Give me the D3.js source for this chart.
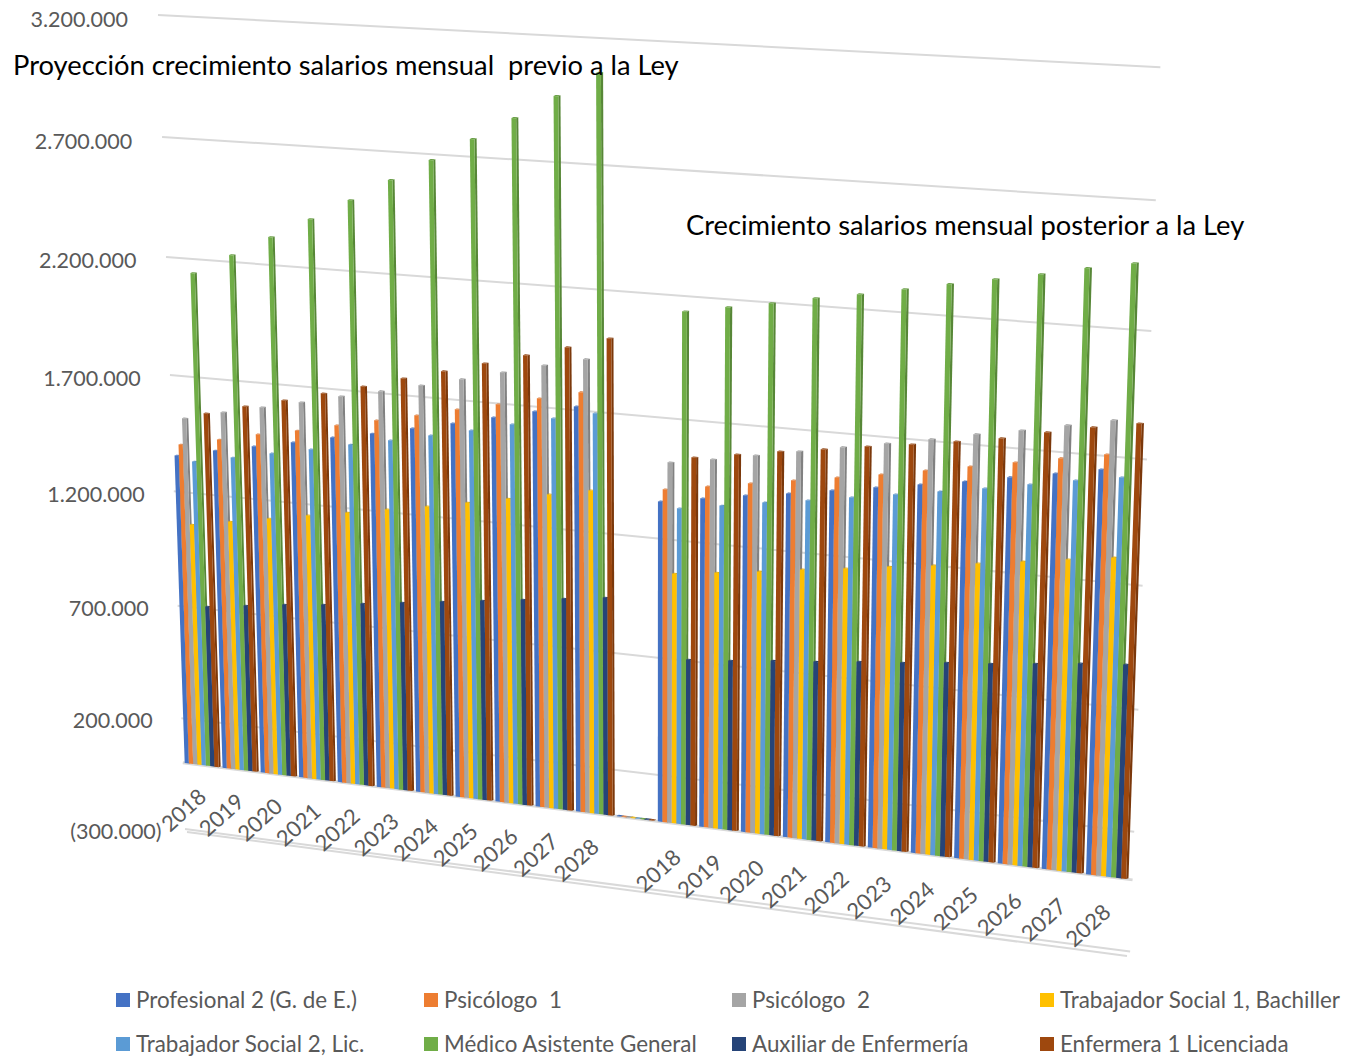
<!DOCTYPE html>
<html>
<head>
<meta charset="utf-8">
<style>
html, body { margin: 0; padding: 0; background: #fff; }
svg { display: block; }
text { font-family: Lato, "Open Sans", sans-serif; }
</style>
<script src="https://cdn.jsdelivr.net/npm/d3@7"></script>
</head>
<body>
<div id="chart"></div>
<script>
// categories: two runs of years with one empty slot between them
var years = ['2018', '2019', '2020', '2021', '2022', '2023', '2024', '2025', '2026', '2027', '2028'];
var categories = years.concat(['']).concat(years);

var seriesNames = ['Profesional 2 (G. de E.)', 'Psicólogo  1', 'Psicólogo  2', 'Trabajador Social 1, Bachiller',
    'Trabajador Social 2, Lic.', 'Médico Asistente General', 'Auxiliar de Enfermería', 'Enfermera 1 Licenciada'];
var seriesColors = ['#4472C4', '#ED7D31', '#A5A5A5', '#FFC000', '#5B9BD5', '#70AD47', '#264478', '#9E480E'];

var yTicks = [3200000, 2700000, 2200000, 1700000, 1200000, 700000, 200000, -300000];

// values in thousands of pesos
var profesional2 = [1356, 1393, 1426, 1459, 1495, 1527, 1564, 1600, 1640, 1680, 1715, 3, 1354, 1383, 1412, 1436, 1465, 1493, 1521, 1549, 1582, 1613, 1645];
var psicologo1 = [1405, 1442, 1479, 1511, 1548, 1584, 1620, 1660, 1696, 1735, 1775, 3, 1406, 1434, 1463, 1491, 1519, 1547, 1579, 1611, 1643, 1675, 1706];
var psicologo2 = [1519, 1560, 1596, 1632, 1672, 1708, 1747, 1787, 1830, 1873, 1912, 3, 1519, 1547, 1579, 1611, 1643, 1674, 1706, 1741, 1772, 1807, 1842];
var trabajador1 = [1062, 1092, 1122, 1152, 1181, 1211, 1240, 1273, 1306, 1340, 1373, 3, 1060, 1082, 1104, 1130, 1152, 1177, 1199, 1225, 1250, 1276, 1301];
var trabajador2 = [1337, 1370, 1403, 1436, 1472, 1505, 1541, 1577, 1618, 1658, 1693, 3, 1333, 1361, 1390, 1415, 1444, 1472, 1500, 1529, 1561, 1593, 1621];
var medico = [2140, 2228, 2315, 2401, 2491, 2584, 2676, 2771, 2865, 2962, 3063, 3, 2138, 2168, 2197, 2230, 2258, 2291, 2324, 2356, 2388, 2424, 2455];
var auxiliar = [709, 732, 755, 773, 795, 818, 840, 863, 885, 907, 930, 3, 705, 720, 739, 754, 774, 789, 808, 823, 842, 862, 877];
var enfermera = [1549, 1594, 1634, 1678, 1722, 1770, 1814, 1861, 1908, 1955, 2005, 3, 1548, 1576, 1604, 1628, 1655, 1679, 1706, 1734, 1773, 1808, 1838];
var seriesValues = [profesional2, psicologo1, psicologo2, trabajador1, trabajador2, medico, auxiliar, enfermera];

var width = 1345, height = 1056;

var svg = d3.select('#chart').append('svg')
    .attr('width', width)
    .attr('height', height);

// the plot wall seen in perspective: unit square -> four corners on the page
var corners = [[185, 829], [1126, 951], [1156, 67], [158, 15]];
var project = perspective(corners);

function perspective(c) {
    var dx1 = c[1][0] - c[2][0], dx2 = c[3][0] - c[2][0], sx = c[0][0] - c[1][0] + c[2][0] - c[3][0];
    var dy1 = c[1][1] - c[2][1], dy2 = c[3][1] - c[2][1], sy = c[0][1] - c[1][1] + c[2][1] - c[3][1];
    var det = dx1 * dy2 - dx2 * dy1;
    var g = (sx * dy2 - dx2 * sy) / det, h = (dx1 * sy - sx * dy1) / det;
    var a = c[1][0] - c[0][0] + g * c[1][0], b = c[3][0] - c[0][0] + h * c[3][0];
    var d = c[1][1] - c[0][1] + g * c[1][1], e = c[3][1] - c[0][1] + h * c[3][1];
    return function(s, t) {
        var w = g * s + h * t + 1;
        return [(a * s + b * t + c[0][0]) / w, (d * s + e * t + c[0][1]) / w];
    };
}

var xBand = d3.scaleBand()
    .domain(d3.range(categories.length))
    .range([0, 1])
    .paddingInner(0.1)
    .paddingOuter(0.05);

var xSeries = d3.scaleBand()
    .domain(d3.range(seriesNames.length))
    .range([0, xBand.bandwidth()]);

var yScale = d3.scaleLinear()
    .domain([-300000, 3200000])
    .range([0, 1]);

var line = d3.line();
function poly(points) { return line(points.map(function(p) { return project(p[0], p[1]); })) + 'Z'; }

// gridlines run a little past the last cluster
var gridEnd = 1.004;
svg.append('g').attr('class', 'grid').selectAll('path')
    .data(yTicks).enter()
    .append('path')
    .attr('d', function(d) { return line([project(0, yScale(d)), project(gridEnd, yScale(d))]); })
    .attr('fill', 'none')
    .attr('stroke', '#d9d9d9')
    .attr('stroke-width', 2);

// second edge of the floor under the -300.000 line
svg.append('path')
    .attr('d', line([[187, 832], [1127, 956]]))
    .attr('fill', 'none')
    .attr('stroke', '#d9d9d9')
    .attr('stroke-width', 2);

// line at value 0
svg.append('path')
    .attr('d', line([project(0, yScale(0)), project(gridEnd, yScale(0))]))
    .attr('fill', 'none')
    .attr('stroke', '#d9d9d9')
    .attr('stroke-width', 3);

// y tick labels, the bracket of the negative one hangs closer to the axis
svg.append('g').attr('class', 'y-labels').selectAll('text')
    .data(yTicks).enter()
    .append('text')
    .attr('x', function(d) { return project(-0.033, yScale(d))[0] + (d < 0 ? 5 : 0); })
    .attr('y', function(d) { return project(-0.033, yScale(d))[1] + 6; })
    .attr('dy', '0.35em')
    .attr('text-anchor', 'end')
    .attr('font-size', 21.5)
    .attr('fill', '#595959')
    .text(function(d) {
        var s = d3.format(',')(Math.abs(d)).replace(/,/g, '.');
        return d < 0 ? '(' + s + ')' : s;
    });

// bars, one cluster at a time so later ones sit over earlier ones
var depthX = 0.0022, depthY = 0.0012;
var clusters = svg.append('g').attr('class', 'bars').selectAll('g')
    .data(categories).enter()
    .append('g');

clusters.each(function(cat, i) {
    var cluster = d3.select(this);
    seriesValues.forEach(function(values, j) {
        var u0 = xBand(i) + xSeries(j), u1 = u0 + xSeries.bandwidth();
        var t0 = yScale(0), t1 = yScale(values[i] * 1000);
        var color = d3.color(seriesColors[j]);
        cluster.append('path')
            .attr('d', poly([[u1, t0], [u1 + depthX, t0 + depthY], [u1 + depthX, t1 + depthY], [u1, t1]]))
            .attr('fill', color.darker(0.7));
        cluster.append('path')
            .attr('d', poly([[u0, t1], [u1, t1], [u1 + depthX, t1 + depthY], [u0 + depthX, t1 + depthY]]))
            .attr('fill', color.darker(0.3));
        cluster.append('path')
            .attr('d', poly([[u0, t0], [u1, t0], [u1, t1], [u0, t1]]))
            .attr('fill', color);
    });
});

// rotated year labels under each cluster
svg.append('g').attr('class', 'x-labels').selectAll('text')
    .data(categories).enter()
    .append('text')
    .attr('transform', function(d, i) {
        var u = xBand(i) + xBand.bandwidth() / 2;
        var p = project(u, yScale(0));
        return 'translate(' + (p[0] - 18) + ',' + (p[1] + 45 + 4 * u) + ') rotate(-42)';
    })
    .attr('dy', '0.35em')
    .attr('text-anchor', 'middle')
    .attr('font-size', 22)
    .attr('fill', '#595959')
    .text(function(d) { return d; });

// section titles
svg.append('text').attr('x', 13).attr('y', 75).attr('font-size', 27.3).attr('fill', '#000')
    .style('white-space', 'pre')
    .text('Proyección crecimiento salarios mensual  previo a la Ley');
svg.append('text').attr('x', 686).attr('y', 235).attr('font-size', 27.3).attr('fill', '#000')
    .text('Crecimiento salarios mensual posterior a la Ley');

// legend, 4 columns by 2 rows
var legendX = d3.scalePoint().domain(d3.range(4)).range([116, 1040]);
var legendY = d3.scalePoint().domain(d3.range(2)).range([1000, 1044]);
var legend = svg.append('g').attr('class', 'legend').selectAll('g')
    .data(seriesNames).enter()
    .append('g')
    .attr('transform', function(d, i) {
        return 'translate(' + legendX(i % 4) + ',' + legendY(Math.floor(i / 4)) + ')';
    });
legend.append('rect')
    .attr('y', -7).attr('width', 14).attr('height', 14)
    .attr('fill', function(d, i) { return seriesColors[i]; });
legend.append('text')
    .attr('x', 20).attr('dy', '0.35em')
    .attr('font-size', 22.4)
    .attr('fill', '#595959')
    .style('white-space', 'pre')
    .text(function(d) { return d; });
</script>
</body>
</html>
